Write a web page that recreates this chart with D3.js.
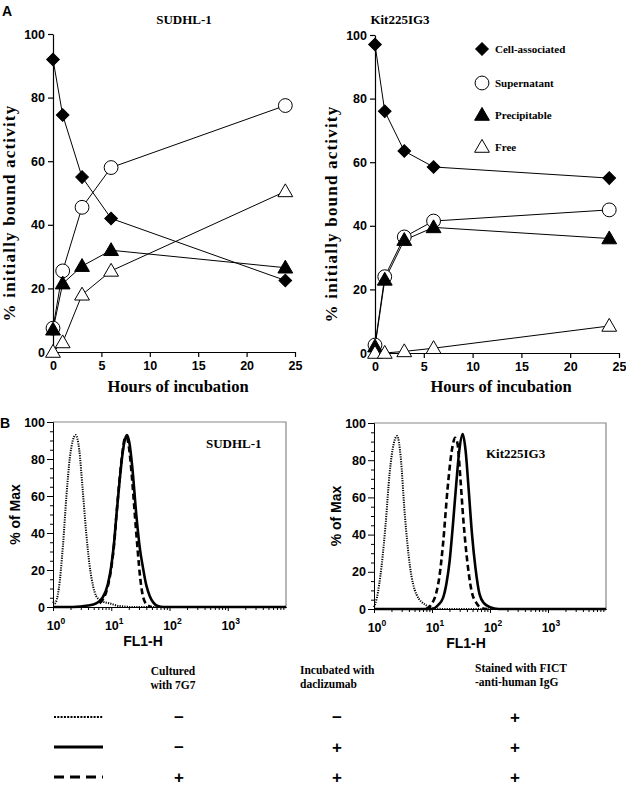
<!DOCTYPE html>
<html><head><meta charset="utf-8">
<script src="https://cdn.jsdelivr.net/npm/d3@7"></script>
<style>
body{margin:0;background:#fff;}
svg{display:block;}
.serif{font-family:"Liberation Serif","Times New Roman",serif;font-weight:bold;}
.sans{font-family:"Liberation Sans",Arial,sans-serif;font-weight:bold;}
</style></head><body>
<svg id="fig" width="626" height="786"></svg>
<script>
// ---------- Panel A data ----------
const hours = [0, 1, 3, 6, 24];
const seriesNames = ["Cell-associated", "Supernatant", "Precipitable", "Free"];
const sudCell = [92, 74.5, 55, 42, 22.5];
const sudSuper = [7.5, 25.5, 45.5, 58, 77.5];
const sudPrecip = [7, 21.5, 27, 32, 26.5];
const sudFree = [0, 3, 18, 25.5, 50.5];
const kitCell = [97, 76, 63.5, 58.5, 55];
const kitSuper = [2.5, 24, 36.5, 41.5, 45];
const kitPrecip = [2, 23, 35.5, 39.5, 36];
const kitFree = [0, 0, 0.5, 1.5, 8.5];
const xTicksA = [0, 5, 10, 15, 20, 25];
const yTicksA = [0, 20, 40, 60, 80, 100];

// ---------- Panel B data (FL1-H value, % of Max) ----------
const sudDotX = [1, 1.07, 1.26, 1.48, 1.7, 1.95, 2.19, 2.45, 2.82, 3.24, 3.72, 4.27, 4.9, 5.5, 7.1, 9.3, 13.8, 25, 10000];
const sudDotY = [3, 2, 10, 33, 60, 81, 90, 93, 85, 63, 40, 22, 11, 6, 3, 2, 0.5, 0, 0];
const sudSolX = [1, 2.19, 3.98, 5.5, 7.08, 8.7, 10, 11.2, 12.3, 13.8, 15.5, 17, 18.6, 20.4, 22.9, 26.9, 30.9, 34.7, 39.8, 45.7, 52.5, 63, 79, 10000];
const sudSolY = [0, 0, 0.8, 2, 5, 12, 22, 35, 50, 67, 82, 90, 93, 89, 76, 50, 32, 22, 12, 6, 2.5, 0.5, 0, 0];
const sudDashX = [6.3, 8.7, 10, 11.2, 12.3, 13.8, 15.5, 17, 18.2, 20, 22.4, 25.1, 28.2, 31.6, 35.5, 41.7, 50];
const sudDashY = [2, 11, 21, 34, 50, 68, 83, 91, 92, 87, 72, 52, 32, 15, 5, 1, 0];
const kitDotX = [1, 1.12, 1.35, 1.58, 1.86, 2.19, 2.51, 2.88, 3.39, 4.17, 5.37, 7.94, 10.5, 15.8, 10000];
const kitDotY = [1, 6, 23, 45, 73, 89, 93, 82, 51, 23, 8, 2, 0.5, 0, 0];
const kitDashX = [7.94, 10, 11.7, 13.5, 15.5, 18.6, 21.9, 25.1, 27.5, 30.9, 34.7, 39.8, 47.9, 58.9, 72.4, 89];
const kitDashY = [0, 3, 8, 18, 35, 65, 85, 92, 89, 70, 48, 28, 10, 3, 0.5, 0];
const kitSolX = [1, 10, 12.6, 15.5, 17.8, 20, 22.9, 26.3, 29.5, 33.9, 38, 42.7, 49, 56.2, 66, 79.4, 100, 141, 10000];
const kitSolY = [0, 0, 2, 6, 14, 25, 45, 68, 85, 94, 85, 65, 40, 22, 8, 3, 1, 0, 0];
const yTicksB = [0, 20, 40, 60, 80, 100];
const xTicksB = [1, 10, 100, 1000];

// ---------- Table data ----------
const tableHeaders = [["Cultured", "with 7G7"], ["Incubated with", "daclizumab"], ["Stained with FICT", "-anti-human IgG"]];
const tableRows = [["−", "−", "+"], ["−", "+", "+"], ["+", "+", "+"]];
const lineStyles = ["dotted", "solid", "dashed"];

const svg = d3.select("#fig");

// ---------- Panel A ----------
function panelA(cfg) {
  const x = d3.scaleLinear().domain([0, 25]).range(cfg.xr);
  const y = d3.scaleLinear().domain([0, 100]).range(cfg.yr);
  const g = svg.append("g");
  const yAx = g.append("g").attr("transform", `translate(${cfg.xr[0]},0)`)
    .call(d3.axisLeft(y).tickValues(yTicksA).tickSize(5).tickSizeOuter(0));
  const xAx = g.append("g").attr("transform", `translate(0,${cfg.yr[0]})`)
    .call(d3.axisBottom(x).tickValues(xTicksA).tickSize(5).tickSizeOuter(0));
  [yAx, xAx].forEach(a => {
    a.selectAll("path,line").attr("stroke", "#000").attr("stroke-width", 1.2);
    a.selectAll("text").attr("class", "sans").attr("font-size", 12.5).attr("fill", "#000");
  });
  yAx.selectAll("text").attr("x", -8);
  xAx.selectAll("text").attr("y", 9);
  g.append("text").attr("class", "serif").attr("font-size", 13).attr("text-anchor", "middle")
    .attr("x", cfg.titleX).attr("y", 24).text(cfg.title);
  g.append("text").attr("class", "serif").attr("font-size", 16.5).attr("text-anchor", "middle")
    .attr("x", (cfg.xr[0] + cfg.xr[1]) / 2 + 4).attr("y", 392).text("Hours of incubation");
  g.append("text").attr("class", "serif").attr("font-size", 17).attr("text-anchor", "middle")
    .attr("transform", `translate(${cfg.xr[0] - 38},${(cfg.yr[0] + cfg.yr[1]) / 2 + 20}) rotate(-90)`)
    .attr("letter-spacing", 1.2)
    .text("% initially bound activity");
  const line = d3.line().x((d, i) => x(hours[i])).y(d => y(d));
  const sym = [
    {t: d3.symbolSquare, s: 80, rot: 45, fill: "#000"},
    {t: d3.symbolCircle, s: 150, rot: 0, fill: "#fff"},
    {t: d3.symbolTriangle, s: 95, rot: 0, fill: "#000"},
    {t: d3.symbolTriangle, s: 95, rot: 0, fill: "#fff"}
  ];
  cfg.data.forEach(vals => {
    g.append("path").attr("d", line(vals)).attr("fill", "none").attr("stroke", "#000").attr("stroke-width", 1);
  });
  cfg.data.forEach((vals, k) => {
    g.selectAll(null).data(vals).enter().append("path")
      .attr("d", d3.symbol().type(sym[k].t).size(sym[k].s))
      .attr("transform", (d, i) => `translate(${x(hours[i])},${y(d) + (k >= 2 ? 1 : 0)}) rotate(${sym[k].rot})`)
      .attr("fill", sym[k].fill).attr("stroke", "#000").attr("stroke-width", 1);
  });
  return sym;
}
panelA({xr: [53, 295], yr: [352, 34], title: "SUDHL-1", titleX: 184, data: [sudCell, sudSuper, sudPrecip, sudFree]});
const syms = panelA({xr: [375, 619], yr: [353, 35], title: "Kit225IG3", titleX: 400, data: [kitCell, kitSuper, kitPrecip, kitFree]});

// legend
const leg = svg.append("g");
seriesNames.forEach((n, k) => {
  const ly = [49, 83, 115, 147][k];
  leg.append("path").attr("d", d3.symbol().type(syms[k].t).size(syms[k].s))
    .attr("transform", `translate(482,${ly + (k >= 2 ? 1 : 0)}) rotate(${syms[k].rot})`)
    .attr("fill", syms[k].fill).attr("stroke", "#000");
  leg.append("text").attr("class", "serif").attr("font-size", 11).attr("x", 495).attr("y", ly + 4).text(n);
});

svg.append("text").attr("class", "sans").attr("font-size", 14).attr("x", 2).attr("y", 16).text("A");
svg.append("text").attr("class", "sans").attr("font-size", 14).attr("x", 0).attr("y", 428).text("B");

// ---------- Panel B ----------
const styleDefs = {
  dotted: {w: 2, dash: "1.2,1.2"},
  solid: {w: 2.6, dash: null},
  dashed: {w: 2.6, dash: "6,3.5"}
};
function panelB(cfg) {
  const x = d3.scaleLog().domain([1, 10000]).range(cfg.xr);
  const y = d3.scaleLinear().domain([0, 100]).range(cfg.yr);
  const g = svg.append("g");
  g.append("path").attr("d", `M${cfg.xr[0]},${cfg.yr[1]}H${cfg.xr[1]}V${cfg.yr[0]}`)
    .attr("fill", "none").attr("stroke", "#888").attr("stroke-width", 1.2);
  const line = d3.line().x(d => x(d[0])).y(d => y(d[1])).curve(d3.curveMonotoneX);
  cfg.curves.forEach(c => {
    const pts = c.xs.map((v, i) => [v, c.ys[i]]);
    const st = styleDefs[c.style];
    g.append("path").attr("d", line(pts)).attr("fill", "none").attr("stroke", "#000")
      .attr("stroke-width", st.w).attr("stroke-dasharray", st.dash);
  });
  const minorY = d3.range(0, 101, 5).filter(v => v % 20 !== 0);
  const ym = g.append("g").attr("transform", `translate(${cfg.xr[0]},0)`)
    .call(d3.axisLeft(y).tickValues(minorY).tickSize(3).tickFormat("").tickSizeOuter(0));
  const yAx = g.append("g").attr("transform", `translate(${cfg.xr[0]},0)`)
    .call(d3.axisLeft(y).tickValues(yTicksB).tickSize(6).tickSizeOuter(0));
  const minorX = [];
  [1, 10, 100, 1000].forEach(b => { for (let m = 2; m <= 9; m++) minorX.push(b * m); });
  const xm = g.append("g").attr("transform", `translate(0,${cfg.yr[0]})`)
    .call(d3.axisBottom(x).tickValues(minorX).tickSize(3).tickFormat("").tickSizeOuter(0));
  const xAx = g.append("g").attr("transform", `translate(0,${cfg.yr[0]})`)
    .call(d3.axisBottom(x).tickValues(xTicksB).tickSize(4).tickSizeOuter(0).tickFormat(""));
  [ym, yAx, xm, xAx].forEach(a => a.selectAll("path,line").attr("stroke", "#000").attr("stroke-width", 1));
  yAx.selectAll("text").attr("class", "sans").attr("font-size", 12.5).attr("fill", "#000").attr("x", -8);
  xTicksB.forEach(v => {
    const t = g.append("text").attr("class", "sans").attr("font-size", 12.5).attr("text-anchor", "middle")
      .attr("x", x(v) + 3).attr("y", cfg.yr[0] + 23);
    t.append("tspan").text("10");
    t.append("tspan").attr("font-size", 8.5).attr("dy", -6).text(Math.round(Math.log10(v)));
  });
  g.append("text").attr("class", "sans").attr("font-size", 14).attr("text-anchor", "middle")
    .attr("x", cfg.labX).attr("y", cfg.yr[0] + 39).text("FL1-H");
  g.append("text").attr("class", "sans").attr("font-size", 14).attr("text-anchor", "middle")
    .attr("transform", `translate(${cfg.xr[0] - 33},${(cfg.yr[0] + cfg.yr[1]) / 2}) rotate(-90)`)
    .text("% of Max");
  g.append("text").attr("class", "serif").attr("font-size", 13).attr("x", cfg.titleX).attr("y", cfg.titleY).text(cfg.title);
}
panelB({xr: [53, 286], yr: [607, 422], labX: 143, title: "SUDHL-1", titleX: 206, titleY: 448,
  curves: [{xs: sudDotX, ys: sudDotY, style: "dotted"}, {xs: sudSolX, ys: sudSolY, style: "solid"}, {xs: sudDashX, ys: sudDashY, style: "dashed"}]});
panelB({xr: [374, 606], yr: [609, 423], labX: 466, title: "Kit225IG3", titleX: 486, titleY: 458,
  curves: [{xs: kitDotX, ys: kitDotY, style: "dotted"}, {xs: kitSolX, ys: kitSolY, style: "solid"}, {xs: kitDashX, ys: kitDashY, style: "dashed"}]});

// ---------- Table ----------
const colX = [173, 300, 475];
const colAnchor = ["middle", "start", "start"];
const headY = [[675, 689], [674, 688], [672, 686]];
tableHeaders.forEach((h, c) => {
  h.forEach((line, j) => {
    svg.append("text").attr("class", "serif").attr("font-size", 11.5).attr("text-anchor", colAnchor[c])
      .attr("x", colX[c]).attr("y", headY[c][j]).text(line);
  });
});
const rowY = [717, 747, 777];
const signX = [179, 337, 515];
tableRows.forEach((r, i) => {
  svg.append("line").attr("x1", 54).attr("x2", 103).attr("y1", rowY[i]).attr("y2", rowY[i])
    .attr("stroke", "#000").attr("stroke-width", i === 0 ? 2.2 : 3).attr("stroke-dasharray", i === 0 ? "2,1.3" : (i === 2 ? "10,6" : null));
  r.forEach((s, c) => {
    svg.append("text").attr("class", "sans").attr("font-size", 17).attr("text-anchor", "middle")
      .attr("dominant-baseline", "central")
      .attr("x", signX[c]).attr("y", rowY[i]).text(s);
  });
});
</script></body></html>
